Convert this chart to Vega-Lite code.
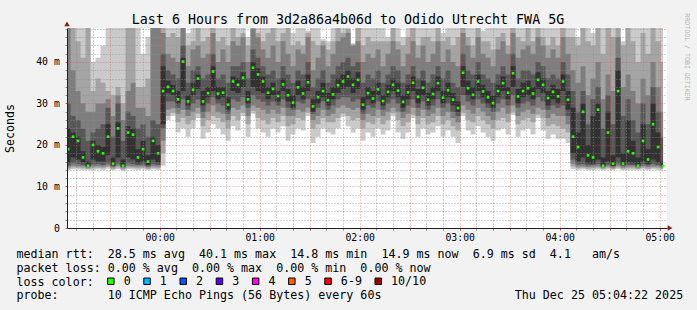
{
 "$schema": "https://vega.github.io/schema/vega-lite/v6.json",
 "width": 600, "height": 200,
 "autosize": {"type": "none"},
 "padding": {"left": 67, "top": 28, "right": 30, "bottom": 82},
 "background": "#f2f2f2",
 "config": {"view": {"fill": "#ffffff", "stroke": null}, "font": "DejaVu Sans Mono"},
 "title": {"text": "Last 6 Hours from 3d2a86a4b06d to Odido Utrecht FWA 5G", "font": "DejaVu Sans Mono", "fontSize": 13.3, "fontWeight": "normal", "color": "#000000", "anchor": "middle", "frame": "group", "dx": -19, "offset": -24.7, "baseline": "alphabetic"},
 "data": {"values": [
  {"t":-55,"m":19,"p1":14,"p2":14.3,"p3":14.6,"p4":15,"p5":15.8,"p6":24,"p7":30,"p8":50,"p9":60,"p10":70,"loss":"0"},
  {"t":-52,"m":22,"p1":14.2,"p2":14.6,"p3":15,"p4":15.6,"p5":17,"p6":23,"p7":27,"p8":38,"p9":55,"p10":75,"loss":"0"},
  {"t":-49,"m":21,"p1":14.1,"p2":14.5,"p3":14.9,"p4":15.4,"p5":16.5,"p6":22,"p7":26,"p8":33,"p9":45,"p10":65,"loss":"0"},
  {"t":-46,"m":17,"p1":14,"p2":14.4,"p3":14.8,"p4":15.2,"p5":15.8,"p6":18.5,"p7":24,"p8":30,"p9":41,"p10":62,"loss":"0"},
  {"t":-43,"m":15,"p1":13.9,"p2":14.2,"p3":14.5,"p4":14.8,"p5":14.9,"p6":16,"p7":21,"p8":28,"p9":60,"p10":70,"loss":"0"},
  {"t":-40,"m":20,"p1":14,"p2":14.4,"p3":14.8,"p4":15.3,"p5":16.5,"p6":21,"p7":23,"p8":28,"p9":33,"p10":40,"loss":"0"},
  {"t":-37,"m":18.5,"p1":14.1,"p2":14.5,"p3":14.9,"p4":15.4,"p5":16,"p6":20,"p7":24,"p8":30,"p9":36,"p10":41,"loss":"0"},
  {"t":-34,"m":18,"p1":14,"p2":14.4,"p3":14.8,"p4":15.2,"p5":16,"p6":19.5,"p7":25,"p8":30,"p9":35,"p10":44,"loss":"0"},
  {"t":-31,"m":22,"p1":14.3,"p2":14.7,"p3":15.1,"p4":15.6,"p5":17.5,"p6":25,"p7":29,"p8":31,"p9":33,"p10":65,"loss":"0"},
  {"t":-28,"m":15.5,"p1":13.9,"p2":14.2,"p3":14.6,"p4":14.9,"p5":15.1,"p6":17,"p7":22,"p8":27,"p9":32,"p10":60,"loss":"0"},
  {"t":-25,"m":24,"p1":14.2,"p2":14.6,"p3":15,"p4":15.5,"p5":17,"p6":25.5,"p7":30,"p8":32,"p9":34,"p10":70,"loss":"0"},
  {"t":-22,"m":15,"p1":13.8,"p2":14.1,"p3":14.4,"p4":14.7,"p5":14.8,"p6":16.5,"p7":21,"p8":26,"p9":30,"p10":60,"loss":"0"},
  {"t":-19,"m":23,"p1":14.2,"p2":14.6,"p3":15,"p4":15.6,"p5":17,"p6":24.5,"p7":28,"p8":33,"p9":50,"p10":60,"loss":"0"},
  {"t":-16,"m":22.5,"p1":14.1,"p2":14.5,"p3":14.9,"p4":15.4,"p5":16.5,"p6":24,"p7":27,"p8":35,"p9":55,"p10":65,"loss":"0"},
  {"t":-13,"m":17,"p1":14,"p2":14.4,"p3":14.8,"p4":15.2,"p5":15.6,"p6":19,"p7":24,"p8":29,"p9":34,"p10":55,"loss":"0"},
  {"t":-10,"m":19,"p1":14.1,"p2":14.5,"p3":14.9,"p4":15.3,"p5":16,"p6":21,"p7":25,"p8":29,"p9":34,"p10":42,"loss":"0"},
  {"t":-7,"m":16,"p1":13.9,"p2":14.2,"p3":14.6,"p4":14.9,"p5":15.2,"p6":17.5,"p7":22,"p8":27,"p9":36,"p10":46,"loss":"0"},
  {"t":-4,"m":21,"p1":14.1,"p2":14.5,"p3":14.9,"p4":15.4,"p5":16.5,"p6":22,"p7":26,"p8":52,"p9":60,"p10":70,"loss":"0"},
  {"t":-1,"m":18,"p1":14,"p2":14.4,"p3":14.8,"p4":15.2,"p5":15.8,"p6":20,"p7":25,"p8":50,"p9":60,"p10":70,"loss":"0"},
  {"t":2,"m":33,"p1":15,"p2":18,"p3":21,"p4":24,"p5":25,"p6":39,"p7":42,"p8":47,"p9":55,"p10":70,"loss":"0"},
  {"t":5,"m":34,"p1":26,"p2":27,"p3":28.5,"p4":30.5,"p5":32.5,"p6":35.5,"p7":38,"p8":42,"p9":46,"p10":65,"loss":"0"},
  {"t":8,"m":33,"p1":27,"p2":27.8,"p3":28.8,"p4":30.5,"p5":32,"p6":34.5,"p7":37,"p8":41,"p9":47,"p10":60,"loss":"0"},
  {"t":11,"m":31,"p1":23,"p2":25.5,"p3":27.5,"p4":29,"p5":30,"p6":33,"p7":36,"p8":40,"p9":46,"p10":52,"loss":"0"},
  {"t":14,"m":40.1,"p1":24,"p2":26.5,"p3":28.5,"p4":31,"p5":33,"p6":41,"p7":44,"p8":50,"p9":60,"p10":75,"loss":"0"},
  {"t":17,"m":30.5,"p1":22,"p2":25,"p3":27,"p4":28.5,"p5":29.5,"p6":32,"p7":35,"p8":39,"p9":44,"p10":47,"loss":"0"},
  {"t":20,"m":33.3,"p1":24,"p2":26,"p3":28,"p4":30,"p5":32,"p6":35,"p7":38,"p8":43,"p9":45,"p10":66,"loss":"0"},
  {"t":23,"m":36,"p1":26.5,"p2":27.5,"p3":29,"p4":31,"p5":33.5,"p6":37,"p7":39,"p8":44,"p9":55,"p10":70,"loss":"0"},
  {"t":26,"m":30.5,"p1":21.5,"p2":24.5,"p3":26.5,"p4":28,"p5":29.5,"p6":33,"p7":36,"p8":41,"p9":45,"p10":58,"loss":"0"},
  {"t":29,"m":32.5,"p1":23,"p2":26,"p3":28,"p4":30,"p5":31.5,"p6":34,"p7":37,"p8":42,"p9":46,"p10":62,"loss":"0"},
  {"t":32,"m":37.7,"p1":25,"p2":27,"p3":29.5,"p4":31.5,"p5":33,"p6":39,"p7":42,"p8":47,"p9":58,"p10":72,"loss":"0"},
  {"t":35,"m":32.4,"p1":24,"p2":26.5,"p3":28,"p4":30,"p5":31,"p6":34,"p7":36,"p8":40,"p9":45,"p10":48.5,"loss":"0"},
  {"t":38,"m":32.6,"p1":22.5,"p2":25.5,"p3":27.5,"p4":29.5,"p5":31.5,"p6":34,"p7":37,"p8":43,"p9":46,"p10":64,"loss":"0"},
  {"t":41,"m":29.7,"p1":21,"p2":24,"p3":26,"p4":27.5,"p5":28.5,"p6":31.5,"p7":35,"p8":40,"p9":44,"p10":57,"loss":"0"},
  {"t":44,"m":35.3,"p1":24.5,"p2":27,"p3":29,"p4":31,"p5":33,"p6":36.5,"p7":39,"p8":45,"p9":56,"p10":68,"loss":"0"},
  {"t":47,"m":34.5,"p1":23.5,"p2":26,"p3":28.5,"p4":30.5,"p5":32.5,"p6":36,"p7":39,"p8":44,"p9":46,"p10":61,"loss":"0"},
  {"t":50,"m":36.2,"p1":27,"p2":27.8,"p3":29.5,"p4":31.5,"p5":34,"p6":37.5,"p7":40,"p8":46,"p9":47,"p10":70,"loss":"0"},
  {"t":53,"m":31,"p1":22,"p2":25,"p3":27,"p4":29,"p5":30,"p6":33,"p7":36,"p8":40,"p9":44,"p10":46,"loss":"0"},
  {"t":56,"m":38.6,"p1":27.5,"p2":28.2,"p3":29.5,"p4":32,"p5":34,"p6":40,"p7":43,"p8":48,"p9":60,"p10":80,"loss":"0"},
  {"t":59,"m":37,"p1":24,"p2":26.5,"p3":29,"p4":31,"p5":33,"p6":38.5,"p7":41,"p8":46,"p9":47,"p10":65,"loss":"0"},
  {"t":62,"m":35.3,"p1":23,"p2":26,"p3":28.5,"p4":30.5,"p5":32.5,"p6":36.5,"p7":39,"p8":43,"p9":45,"p10":58,"loss":"0"},
  {"t":65,"m":32.6,"p1":22,"p2":25,"p3":27.5,"p4":29.5,"p5":31,"p6":34,"p7":37,"p8":41,"p9":47,"p10":60,"loss":"0"},
  {"t":68,"m":33.5,"p1":24,"p2":26.5,"p3":28.5,"p4":30.5,"p5":32,"p6":35,"p7":38,"p8":44,"p9":53,"p10":66,"loss":"0"},
  {"t":71,"m":31.8,"p1":23,"p2":25.5,"p3":27.5,"p4":29.5,"p5":30.5,"p6":33,"p7":36,"p8":40,"p9":45,"p10":49,"loss":"0"},
  {"t":74,"m":34.6,"p1":24.5,"p2":27,"p3":29,"p4":31,"p5":33,"p6":36,"p7":39,"p8":45,"p9":47,"p10":72,"loss":"0"},
  {"t":77,"m":32,"p1":21,"p2":24.5,"p3":27,"p4":29,"p5":30.5,"p6":33.5,"p7":37,"p8":42,"p9":50,"p10":63,"loss":"0"},
  {"t":80,"m":30.2,"p1":22.5,"p2":25,"p3":27,"p4":28.5,"p5":29,"p6":32,"p7":35,"p8":39,"p9":44,"p10":47,"loss":"0"},
  {"t":83,"m":33.9,"p1":24,"p2":26.5,"p3":28.5,"p4":30.5,"p5":32,"p6":35.5,"p7":38,"p8":43,"p9":45,"p10":62,"loss":"0"},
  {"t":86,"m":32.4,"p1":23.5,"p2":26,"p3":28,"p4":30,"p5":31,"p6":34,"p7":37,"p8":42,"p9":44,"p10":68,"loss":"0"},
  {"t":89,"m":35.1,"p1":27,"p2":27.8,"p3":29,"p4":31,"p5":33,"p6":37,"p7":40,"p8":46,"p9":47,"p10":47.5,"loss":"0"},
  {"t":92,"m":29.3,"p1":20.5,"p2":24,"p3":26,"p4":27.5,"p5":28,"p6":31,"p7":34,"p8":38,"p9":45,"p10":55,"loss":"0"},
  {"t":95,"m":31.5,"p1":22,"p2":25,"p3":27,"p4":29,"p5":30,"p6":33,"p7":36,"p8":41,"p9":44,"p10":59,"loss":"0"},
  {"t":98,"m":33,"p1":24,"p2":26.5,"p3":28.5,"p4":30.5,"p5":31.5,"p6":35,"p7":38,"p8":44,"p9":45,"p10":45.5,"loss":"0"},
  {"t":101,"m":30.8,"p1":23,"p2":25.5,"p3":27,"p4":28.5,"p5":29.5,"p6":32.5,"p7":35,"p8":39,"p9":43,"p10":45,"loss":"0"},
  {"t":104,"m":32.2,"p1":22.5,"p2":25.5,"p3":27.5,"p4":29.5,"p5":31,"p6":34,"p7":37,"p8":42,"p9":45,"p10":61,"loss":"0"},
  {"t":107,"m":34.4,"p1":24,"p2":26.5,"p3":29,"p4":31,"p5":32.5,"p6":36,"p7":39,"p8":45,"p9":54,"p10":70,"loss":"0"},
  {"t":110,"m":35.3,"p1":26.8,"p2":27.6,"p3":29.5,"p4":31.5,"p5":33.5,"p6":37,"p7":40,"p8":46,"p9":47,"p10":73,"loss":"0"},
  {"t":113,"m":36.5,"p1":24.5,"p2":27,"p3":29,"p4":31.5,"p5":34,"p6":38,"p7":41,"p8":47,"p9":48,"p10":66,"loss":"0"},
  {"t":116,"m":34.5,"p1":23,"p2":26,"p3":28.5,"p4":30.5,"p5":32.5,"p6":36,"p7":39,"p8":44,"p9":44.3,"p10":44.5,"loss":"0"},
  {"t":119,"m":35.7,"p1":24,"p2":26.5,"p3":29,"p4":31,"p5":33.5,"p6":37.5,"p7":40,"p8":45,"p9":52,"p10":64,"loss":"0"},
  {"t":122,"m":29.7,"p1":21,"p2":24,"p3":26,"p4":27.5,"p5":28.5,"p6":31.5,"p7":35,"p8":40,"p9":44,"p10":58,"loss":"0"},
  {"t":125,"m":32.5,"p1":23,"p2":25.5,"p3":27.5,"p4":29.5,"p5":31,"p6":34,"p7":37,"p8":42,"p9":46,"p10":48.5,"loss":"0"},
  {"t":128,"m":31.2,"p1":22,"p2":25,"p3":27,"p4":29,"p5":30,"p6":33,"p7":36,"p8":41,"p9":45,"p10":64,"loss":"0"},
  {"t":131,"m":33.4,"p1":24,"p2":26.5,"p3":28.5,"p4":30.5,"p5":32,"p6":35,"p7":38,"p8":43,"p9":45,"p10":68,"loss":"0"},
  {"t":134,"m":30.6,"p1":22.5,"p2":25,"p3":27,"p4":28.5,"p5":29.5,"p6":32,"p7":35,"p8":39,"p9":45,"p10":53,"loss":"0"},
  {"t":137,"m":32.8,"p1":23.5,"p2":26,"p3":28,"p4":30,"p5":31.5,"p6":34.5,"p7":37,"p8":42,"p9":45,"p10":46,"loss":"0"},
  {"t":140,"m":34.5,"p1":27,"p2":27.8,"p3":29,"p4":31,"p5":33,"p6":36,"p7":39,"p8":45,"p9":56,"p10":72,"loss":"0"},
  {"t":143,"m":33.1,"p1":23,"p2":26,"p3":28,"p4":30,"p5":31.5,"p6":35,"p7":38,"p8":43,"p9":45,"p10":62,"loss":"0"},
  {"t":146,"m":30.4,"p1":21.5,"p2":24.5,"p3":26.5,"p4":28,"p5":29,"p6":32,"p7":35,"p8":39,"p9":44,"p10":46,"loss":"0"},
  {"t":149,"m":32.7,"p1":23,"p2":25.5,"p3":27.5,"p4":29.5,"p5":31,"p6":34.5,"p7":37,"p8":42,"p9":46,"p10":65,"loss":"0"},
  {"t":152,"m":35,"p1":26.5,"p2":27.3,"p3":29,"p4":31,"p5":33,"p6":36.5,"p7":39,"p8":45,"p9":55,"p10":70,"loss":"0"},
  {"t":155,"m":31.6,"p1":22,"p2":25,"p3":27,"p4":29,"p5":30,"p6":33.5,"p7":36,"p8":41,"p9":44,"p10":59,"loss":"0"},
  {"t":158,"m":33.8,"p1":24,"p2":26.5,"p3":28.5,"p4":30.5,"p5":32,"p6":35.5,"p7":38,"p8":44,"p9":46,"p10":66,"loss":"0"},
  {"t":161,"m":30.9,"p1":22.5,"p2":25,"p3":27,"p4":28.5,"p5":29.5,"p6":32.5,"p7":35,"p8":40,"p9":46,"p10":52,"loss":"0"},
  {"t":164,"m":32.3,"p1":23,"p2":25.5,"p3":27.5,"p4":29.5,"p5":31,"p6":34,"p7":37,"p8":42,"p9":45,"p10":63,"loss":"0"},
  {"t":167,"m":34.9,"p1":24.5,"p2":27,"p3":29,"p4":31,"p5":33,"p6":36.5,"p7":39,"p8":45,"p9":55,"p10":69,"loss":"0"},
  {"t":170,"m":31.4,"p1":22,"p2":25,"p3":27,"p4":29,"p5":30,"p6":33,"p7":36,"p8":40,"p9":45,"p10":47,"loss":"0"},
  {"t":173,"m":33.2,"p1":23.5,"p2":26,"p3":28,"p4":30,"p5":31.5,"p6":35,"p7":38,"p8":43,"p9":46,"p10":64,"loss":"0"},
  {"t":176,"m":30.9,"p1":22,"p2":24.5,"p3":26.5,"p4":28,"p5":29.5,"p6":32.5,"p7":35,"p8":40,"p9":44,"p10":60,"loss":"0"},
  {"t":179,"m":28.9,"p1":20.5,"p2":23.5,"p3":25.5,"p4":27,"p5":28,"p6":30.5,"p7":34,"p8":39,"p9":46,"p10":55,"loss":"0"},
  {"t":182,"m":37.4,"p1":27,"p2":27.8,"p3":29.5,"p4":32,"p5":34,"p6":39,"p7":42,"p8":47,"p9":58,"p10":75,"loss":"0"},
  {"t":185,"m":33.7,"p1":23.5,"p2":26,"p3":28.5,"p4":30.5,"p5":32,"p6":35.5,"p7":38,"p8":44,"p9":46,"p10":66,"loss":"0"},
  {"t":188,"m":32.1,"p1":22.5,"p2":25.5,"p3":27.5,"p4":29.5,"p5":31,"p6":34,"p7":37,"p8":41,"p9":44,"p10":58,"loss":"0"},
  {"t":191,"m":35.3,"p1":24.5,"p2":27,"p3":29,"p4":31,"p5":33,"p6":37,"p7":40,"p8":46,"p9":56,"p10":71,"loss":"0"},
  {"t":194,"m":32.9,"p1":23,"p2":26,"p3":28,"p4":30,"p5":31.5,"p6":34.5,"p7":37,"p8":42,"p9":45,"p10":47.5,"loss":"0"},
  {"t":197,"m":31.5,"p1":22,"p2":25,"p3":27,"p4":29,"p5":30,"p6":33,"p7":36,"p8":41,"p9":45,"p10":62,"loss":"0"},
  {"t":200,"m":30.1,"p1":21,"p2":24,"p3":26,"p4":28,"p5":29,"p6":32,"p7":35,"p8":39,"p9":43,"p10":57,"loss":"0"},
  {"t":203,"m":33,"p1":23.5,"p2":26,"p3":28,"p4":30,"p5":31.5,"p6":34.5,"p7":37,"p8":43,"p9":46,"p10":66,"loss":"0"},
  {"t":206,"m":34.9,"p1":24,"p2":26.5,"p3":29,"p4":31,"p5":33,"p6":36.5,"p7":39,"p8":45,"p9":47,"p10":70,"loss":"0"},
  {"t":209,"m":32.6,"p1":22.5,"p2":25.5,"p3":27.5,"p4":29.5,"p5":31,"p6":34,"p7":37,"p8":42,"p9":44,"p10":60,"loss":"0"},
  {"t":212,"m":37.3,"p1":27.2,"p2":28,"p3":29.5,"p4":32,"p5":34,"p6":39,"p7":42,"p8":47,"p9":58,"p10":74,"loss":"0"},
  {"t":215,"m":31.7,"p1":22,"p2":25,"p3":27,"p4":29,"p5":30,"p6":33.5,"p7":36,"p8":41,"p9":46,"p10":48.5,"loss":"0"},
  {"t":218,"m":33,"p1":23.5,"p2":26,"p3":28,"p4":30,"p5":31.5,"p6":35,"p7":38,"p8":43,"p9":45,"p10":63,"loss":"0"},
  {"t":221,"m":33.7,"p1":24,"p2":26.5,"p3":28.5,"p4":30.5,"p5":32,"p6":35.5,"p7":38,"p8":44,"p9":54,"p10":68,"loss":"0"},
  {"t":224,"m":32.4,"p1":22.5,"p2":25.5,"p3":27.5,"p4":29.5,"p5":31,"p6":34,"p7":37,"p8":42,"p9":45,"p10":60,"loss":"0"},
  {"t":227,"m":35.7,"p1":26.5,"p2":27.3,"p3":29,"p4":31.5,"p5":33.5,"p6":37.5,"p7":40,"p8":46,"p9":57,"p10":72,"loss":"0"},
  {"t":230,"m":34.5,"p1":23.5,"p2":26.5,"p3":28.5,"p4":30.5,"p5":32.5,"p6":36,"p7":39,"p8":44,"p9":46,"p10":65,"loss":"0"},
  {"t":233,"m":31.3,"p1":21.5,"p2":24.5,"p3":26.5,"p4":28.5,"p5":29.5,"p6":33,"p7":36,"p8":41,"p9":44,"p10":58,"loss":"0"},
  {"t":236,"m":32.8,"p1":22.5,"p2":25,"p3":27.5,"p4":29.5,"p5":31,"p6":34.5,"p7":37,"p8":43,"p9":46,"p10":66,"loss":"0"},
  {"t":239,"m":31.7,"p1":21.5,"p2":24.5,"p3":27,"p4":29,"p5":30,"p6":33.5,"p7":36,"p8":41,"p9":44,"p10":60,"loss":"0"},
  {"t":242,"m":35.3,"p1":21.5,"p2":24,"p3":27,"p4":29.5,"p5":33,"p6":37,"p7":40,"p8":46,"p9":56,"p10":70,"loss":"0"},
  {"t":245,"m":30.9,"p1":20.5,"p2":23,"p3":25,"p4":27,"p5":28.5,"p6":33,"p7":37,"p8":42,"p9":46,"p10":64,"loss":"0"},
  {"t":248,"m":22,"p1":14.2,"p2":14.8,"p3":15.5,"p4":16.5,"p5":18,"p6":29,"p7":33,"p8":38,"p9":46,"p10":60,"loss":"0"},
  {"t":251,"m":19.5,"p1":14,"p2":14.4,"p3":14.8,"p4":15.3,"p5":16,"p6":23,"p7":28,"p8":35,"p9":44,"p10":46,"loss":"0"},
  {"t":254,"m":28,"p1":14.1,"p2":14.5,"p3":14.9,"p4":15.4,"p5":17,"p6":30,"p7":33,"p8":39,"p9":52,"p10":70,"loss":"0"},
  {"t":257,"m":17.5,"p1":13.9,"p2":14.3,"p3":14.7,"p4":15.1,"p5":15.6,"p6":20,"p7":25,"p8":32,"p9":45,"p10":62,"loss":"0"},
  {"t":260,"m":17,"p1":14,"p2":14.4,"p3":14.8,"p4":15.2,"p5":15.5,"p6":27,"p7":31,"p8":36,"p9":44,"p10":47,"loss":"0"},
  {"t":263,"m":28.5,"p1":14.1,"p2":14.5,"p3":14.9,"p4":15.4,"p5":16.5,"p6":30,"p7":34,"p8":40,"p9":54,"p10":72,"loss":"0"},
  {"t":266,"m":15,"p1":13.9,"p2":14.2,"p3":14.5,"p4":14.8,"p5":14.9,"p6":17,"p7":24,"p8":31,"p9":42,"p10":60,"loss":"0"},
  {"t":269,"m":23,"p1":14.1,"p2":14.5,"p3":14.9,"p4":15.3,"p5":16,"p6":28,"p7":32,"p8":37,"p9":49,"p10":65,"loss":"0"},
  {"t":272,"m":15.5,"p1":13.9,"p2":14.2,"p3":14.5,"p4":14.9,"p5":15,"p6":17.5,"p7":25,"p8":33,"p9":46,"p10":58,"loss":"0"},
  {"t":275,"m":33,"p1":14.2,"p2":14.6,"p3":15,"p4":15.6,"p5":17,"p6":38,"p7":41,"p8":46,"p9":55,"p10":75,"loss":"0"},
  {"t":278,"m":15.5,"p1":13.9,"p2":14.3,"p3":14.6,"p4":15,"p5":15.2,"p6":18,"p7":27,"p8":34,"p9":44,"p10":45,"loss":"0"},
  {"t":281,"m":18.5,"p1":14,"p2":14.4,"p3":14.8,"p4":15.2,"p5":15.8,"p6":26,"p7":31,"p8":37,"p9":50,"p10":66,"loss":"0"},
  {"t":284,"m":18,"p1":14,"p2":14.4,"p3":14.8,"p4":15.2,"p5":15.6,"p6":21,"p7":26,"p8":33,"p9":45,"p10":60,"loss":"0"},
  {"t":287,"m":15,"p1":13.9,"p2":14.2,"p3":14.5,"p4":14.8,"p5":14.9,"p6":17,"p7":23,"p8":30,"p9":40,"p10":55,"loss":"0"},
  {"t":290,"m":21,"p1":14.1,"p2":14.5,"p3":14.9,"p4":15.3,"p5":16,"p6":25,"p7":30,"p8":36,"p9":47,"p10":62,"loss":"0"},
  {"t":293,"m":16.5,"p1":13.9,"p2":14.3,"p3":14.7,"p4":15.1,"p5":15.4,"p6":19,"p7":25,"p8":32,"p9":42,"p10":52,"loss":"0"},
  {"t":296,"m":25,"p1":14.1,"p2":14.5,"p3":14.9,"p4":15.4,"p5":16.5,"p6":30,"p7":34,"p8":40,"p9":52,"p10":70,"loss":"0"},
  {"t":299,"m":19.5,"p1":14,"p2":14.4,"p3":14.8,"p4":15.2,"p5":15.8,"p6":23,"p7":28,"p8":34,"p9":45,"p10":60,"loss":"0"},
  {"t":302,"m":14.9,"p1":13.9,"p2":14.2,"p3":14.5,"p4":14.8,"p5":14.85,"p6":16,"p7":22,"p8":28,"p9":40,"p10":58,"loss":"0"}
 ]},
 "layer": [
  {"mark": {"type": "area", "interpolate": "step", "clip": true, "color": "#cacaca"},
   "encoding": {
    "x": {"field": "t", "type": "quantitative", "scale": {"domain": [-55.63, 304.37], "nice": false, "zero": false},
      "axis": {"orient": "bottom", "values": [-50,-40,-20,-10,10,20,40,50,70,80,100,110,130,140,160,170,190,200,220,230,250,260,280,290], "grid": true, "gridColor": "#8f8f8f", "gridOpacity": 0.75, "gridDash": [1,2], "labels": false, "ticks": true, "tickSize": 2, "tickColor": "#8f8f8f", "domain": false, "title": null, "zindex": 1}},
    "y": {"field": "p1", "type": "quantitative", "scale": {"domain": [0, 48.19], "nice": false, "zero": false},
      "axis": {"orient": "left", "values": [2,4,6,8,12,14,16,18,22,24,26,28,32,34,36,38,42,44,46,48], "grid": true, "gridColor": "#8f8f8f", "gridOpacity": 0.75, "gridDash": [1,2], "labels": false, "ticks": true, "tickSize": 2, "tickColor": "#8f8f8f", "domain": false, "title": null, "zindex": 1}},
    "y2": {"field": "p10"}}},
  {"mark": {"type": "area", "interpolate": "step", "clip": true, "color": "#a4a4a4"},
   "encoding": {
    "x": {"field": "t", "type": "quantitative",
      "axis": {"orient": "bottom", "values": [-30,0,30,60,90,120,150,180,210,240,270,300], "grid": true, "gridColor": "#de4f4f", "gridOpacity": 0.6, "gridDash": [1,2], "ticks": true, "tickSize": 2, "tickColor": "#de4f4f", "domain": true, "domainColor": "#1f1f1f", "domainWidth": 1,
        "labelExpr": "datum.value >= 0 && datum.value % 60 == 0 ? '0' + (datum.value / 60) + ':00' : ''",
        "labelFont": "DejaVu Sans Mono", "labelFontSize": 9.8, "labelColor": "#000000", "labelBaseline": "alphabetic", "labelPadding": 10.7, "labelFlush": false, "labelOverlap": false,
        "title": ["median\u00a0rtt:\u00a0\u00a028.5\u00a0ms\u00a0avg\u00a0\u00a040.1\u00a0ms\u00a0max\u00a0\u00a014.8\u00a0ms\u00a0min\u00a0\u00a014.9\u00a0ms\u00a0now\u00a0\u00a06.9\u00a0ms\u00a0sd\u00a0\u00a04.1\u00a0\u00a0\u00a0am/s",
                  "packet\u00a0loss:\u00a00.00\u00a0%\u00a0avg\u00a0\u00a00.00\u00a0%\u00a0max\u00a0\u00a00.00\u00a0%\u00a0min\u00a0\u00a00.00\u00a0%\u00a0now",
                  "loss\u00a0color:",
                  "probe:\u00a0\u00a0\u00a0\u00a0\u00a0\u00a0\u00a010\u00a0ICMP\u00a0Echo\u00a0Pings\u00a0(56\u00a0Bytes)\u00a0every\u00a060s\u00a0\u00a0\u00a0\u00a0\u00a0\u00a0\u00a0\u00a0\u00a0\u00a0\u00a0\u00a0\u00a0\u00a0\u00a0\u00a0\u00a0\u00a0\u00a0Thu\u00a0Dec\u00a025\u00a005:04:22\u00a02025"],
        "titleX": -51, "titleY": 29.3, "titleAlign": "left", "titleAnchor": "start", "titleBaseline": "alphabetic", "titleFont": "DejaVu Sans Mono", "titleFontSize": 11.67, "titleFontWeight": "normal", "titleColor": "#000000", "titleLineHeight": 13.9, "zindex": 1}},
    "y": {"field": "p2", "type": "quantitative",
      "axis": {"orient": "left", "values": [0,10,20,30,40], "grid": true, "gridColor": "#de4f4f", "gridOpacity": 0.6, "gridDash": [1,2], "ticks": true, "tickSize": 2, "tickColor": "#de4f4f", "domain": true, "domainColor": "#1f1f1f", "domainWidth": 1,
        "labelExpr": "datum.value == 0 ? '0\u00a0\u00a0' : datum.value + '\u00a0m'",
        "labelFont": "DejaVu Sans Mono", "labelFontSize": 9.8, "labelColor": "#000000", "labelAlign": "right", "labelBaseline": "middle", "labelPadding": 5.7,
        "title": "Seconds", "titleX": -56.5, "titleY": 100, "titleAngle": -90, "titleAlign": "center", "titleBaseline": "middle", "titleFont": "DejaVu Sans Mono", "titleFontSize": 11.6, "titleFontWeight": "normal", "titleColor": "#000000", "zindex": 1}},
    "y2": {"field": "p9"}}},
  {"mark": {"type": "area", "interpolate": "step", "clip": true, "color": "#7e7e7e"},
   "encoding": {
    "x": {"field": "t", "type": "quantitative", "axis": null},
    "y": {"field": "p3", "type": "quantitative",
      "axis": {"orient": "right", "grid": false, "labels": false, "ticks": false, "domain": false, "title": "RRDTOOL / TOBI OETIKER", "titleAngle": 90, "titleX": 19.7, "titleY": 28.5, "titleAlign": "center", "titleBaseline": "middle", "titleFont": "DejaVu Sans Mono", "titleFontSize": 6.6, "titleFontWeight": "normal", "titleColor": "#b4b4b4"}},
    "y2": {"field": "p8"}}},
  {"mark": {"type": "area", "interpolate": "step", "clip": true, "color": "#585858"},
   "encoding": {
    "x": {"field": "t", "type": "quantitative", "axis": null},
    "y": {"field": "p4", "type": "quantitative", "axis": null},
    "y2": {"field": "p7"}}},
  {"mark": {"type": "area", "interpolate": "step", "clip": true, "color": "#323232"},
   "encoding": {
    "x": {"field": "t", "type": "quantitative", "axis": null},
    "y": {"field": "p5", "type": "quantitative", "axis": null},
    "y2": {"field": "p6"}}},
  {"mark": {"type": "square", "size": 7, "opacity": 1, "filled": true, "clip": true},
   "encoding": {
    "x": {"field": "t", "type": "quantitative", "axis": null},
    "y": {"field": "m", "type": "quantitative", "axis": null},
    "color": {"field": "loss", "type": "nominal",
      "scale": {"domain": ["0","1","2","3","4","5","6-9","10/10"], "range": ["#26ff00","#00b8ff","#0059ff","#5e00ff","#ff00f5","#ff5e00","#ff0000","#a10000"]},
      "legend": {"orient": "none", "legendX": 38, "legendY": 247.2, "direction": "horizontal", "title": null, "symbolType": "square", "symbolSize": 42, "symbolStrokeColor": "#000000", "symbolStrokeWidth": 1, "symbolOpacity": 1, "labelFont": "DejaVu Sans Mono", "labelFontSize": 11.67, "labelColor": "#000000", "labelOffset": 7, "columnPadding": 10.2, "padding": 0}}}},
  {"data": {"values": [{"arrow": "y"}]},
   "mark": {"type": "point", "shape": "triangle-up", "filled": true, "size": 30, "color": "#801f1f", "opacity": 1},
   "encoding": {
    "x": {"datum": -55.63, "type": "quantitative", "axis": null},
    "y": {"datum": 49.2, "type": "quantitative", "axis": null}}},
  {"data": {"values": [{"arrow": "x"}]},
   "mark": {"type": "point", "shape": "triangle-right", "filled": true, "size": 30, "color": "#801f1f", "opacity": 1},
   "encoding": {
    "x": {"datum": 306.2, "type": "quantitative", "axis": null},
    "y": {"datum": 0, "type": "quantitative", "axis": null}}}
 ],
 "resolve": {"axis": {"x": "independent", "y": "independent"}}
}
